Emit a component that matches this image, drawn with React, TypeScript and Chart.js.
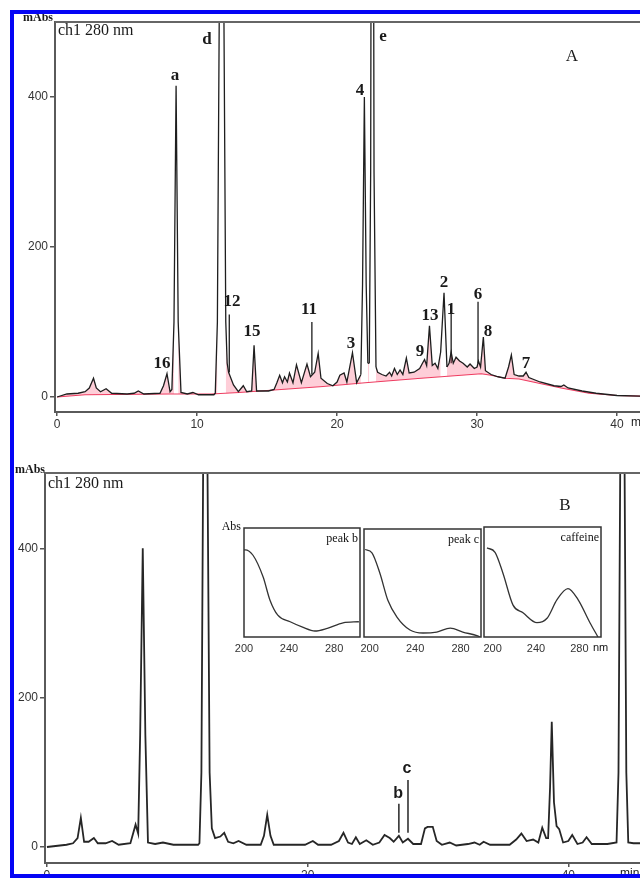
import React, { useEffect, useRef } from "react";
import { Chart, registerables } from "chart.js";

Chart.register(...registerables);

// ---------- Panel A : chromatogram (time in min, absorbance in mAbs) ----------
const TIME_A = [
  0, 0.7, 1.5, 2.0, 2.3, 2.6, 2.8, 3.1, 3.5, 3.9, 5.0, 5.5, 5.8, 6.2, 7.35, 7.6, 7.85, 8.07, 8.2, 8.35,
  8.5, 8.65, 8.85, 9.3, 9.7, 10.1, 11.2, 11.3, 11.45, 11.58, 11.75, 11.92, 12.05, 12.15, 12.25, 12.6,
  12.95, 13.3, 13.55, 13.9, 14.07, 14.25, 15.1, 15.5, 15.7, 15.9, 16.1, 16.25, 16.45, 16.6, 16.85, 17.1,
  17.45, 17.85, 18.1, 18.4, 18.65, 18.85, 19.3, 19.7, 20.0, 20.2, 20.5, 20.7, 21.1, 21.4, 21.7, 21.82,
  21.95, 22.08, 22.2, 22.3, 22.4, 22.52, 22.64, 22.78, 22.9, 23.2, 23.5, 23.75, 23.9, 24.1, 24.3, 24.5,
  24.7, 24.95, 25.15, 25.5, 25.9, 26.1, 26.25, 26.4, 26.6, 26.8, 27.0, 27.2, 27.4, 27.64, 27.85, 28.0,
  28.15, 28.3, 28.5, 28.75, 29.0, 29.3, 29.5, 29.8, 30.0, 30.1, 30.25, 30.45, 30.6, 31.0, 31.5, 32.0,
  32.25, 32.45, 32.65, 33.0, 33.3, 33.5, 33.7, 34.5, 35.5, 36.0, 36.2, 36.5, 37.5, 38.5, 40.0, 41.7,
];
const ABS_A = [
  0, 4, 5, 7, 12, 25, 12, 7, 11, 5, 4, 5, 8, 4, 5, 15, 31, 7, 10, 100,
  415, 100, 6, 4, 6, 3, 3, 5, 100, 500, 1500, 500, 100, 45, 33, 16,
  7, 15, 7, 8, 69, 8, 8, 10, 19, 29, 19, 27, 20, 32, 19, 43,
  19, 44, 27, 33, 58, 25, 18, 15, 20, 29, 32, 20, 59, 19, 30, 150,
  400, 150, 45, 45, 300, 1500, 300, 40, 33, 30, 28, 33, 28, 38, 30, 36,
  30, 52, 32, 33, 38, 45, 50, 42, 95, 42, 45, 38, 60, 139, 40, 45,
  60, 45, 53, 48, 45, 40, 44, 38, 40, 48, 40, 80, 35, 30, 27, 25,
  40, 56, 30, 28, 28, 33, 26, 20, 15, 14, 16, 12, 8, 5, 2, 1,
];
// integration baseline (red)
const BASE_TIME_A = [0, 2, 8, 11, 13, 16, 19, 22, 26, 30.3, 31, 32, 33, 34, 36, 38, 40, 41.7];
const BASE_ABS_A = [0, 3, 4, 4, 6, 10, 14, 19, 25, 31, 29, 25, 24, 20, 12, 5, 2, 1];
// thin peak marker lines
const MARK_TIME_A = [12.3, 18.2, 28.15, 30.07];
const MARK_LOW_A = [33, 30, 45, 45];
const MARK_HIGH_A = [110, 100, 122, 127];
// peak labels
const LABEL_TEXT_A = ["a", "d", "e", "4", "16", "12", "15", "11", "3", "9", "13", "2", "1", "6", "8", "7"];
const LABEL_TIME_A = [8.43, 10.71, 23.29, 21.64, 7.5, 12.5, 13.93, 18.0, 21.0, 25.93, 26.64, 27.64, 28.14, 30.07, 30.79, 33.5];
const LABEL_ABS_A = [429, 477, 480, 409, 45, 127, 87, 116, 71, 61, 109, 152, 117, 137, 87, 44];

// ---------- Panel B : chromatogram ----------
const TIME_B = [
  0, 1.5, 2.0, 2.35, 2.6, 2.85, 3.2, 3.6, 3.9, 4.5, 5.0, 5.5, 6.4, 6.8, 7.0, 7.15, 7.35, 7.55, 7.75, 8.3,
  8.9, 9.7, 11.6, 11.7, 11.85, 11.98, 12.15, 12.32, 12.48, 12.65, 12.9, 13.3, 13.6, 13.9, 14.3, 14.7,
  15.3, 16.4, 16.65, 16.9, 17.15, 17.4, 19.8, 20.4, 20.8, 21.8, 22.4, 22.75, 23.1, 23.4, 23.7, 24.0,
  24.5, 25.0, 25.5, 25.9, 26.3, 26.6, 27.0, 27.3, 27.7, 28.1, 28.7, 29.0, 29.2, 29.6, 29.9, 30.3,
  30.9, 31.4, 32.3, 32.8, 33.2, 33.5, 34.0, 35.5, 36.0, 36.4, 36.8, 37.3, 37.7, 38.0, 38.3, 38.45,
  38.6, 38.73, 38.9, 39.1, 39.3, 39.6, 40.0, 40.3, 40.7, 41.1, 41.4, 41.8, 43.0, 43.7, 43.85, 43.98,
  44.15, 44.32, 44.45, 44.6, 45.0, 45.6,
];
const ABS_B = [
  0, 3, 5, 12, 39, 7, 7, 12, 5, 5, 8, 3, 5, 30, 18, 150, 401, 150, 6, 4,
  6, 3, 3, 5, 100, 500, 1500, 500, 100, 25, 12, 14, 19, 7, 5, 8,
  3, 3, 15, 43, 15, 3, 3, 8, 3, 3, 8, 19, 6, 4, 13, 4,
  9, 3, 6, 16, 12, 7, 15, 6, 11, 4, 4, 25, 27, 27, 8, 3,
  6, 2, 4, 6, 3, 7, 3, 3, 10, 18, 8, 10, 6, 26, 12, 12,
  80, 168, 60, 28, 24, 6, 8, 16, 4, 6, 13, 4, 4, 6, 100, 500,
  1500, 500, 100, 6, 5, 5,
];
const MARK_TIME_B = [27.0, 27.7];
const MARK_LOW_B = [19, 19];
const MARK_HIGH_B = [58, 90];
const LABEL_TEXT_B = ["b", "c"];
const LABEL_TIME_B = [26.94, 27.62];
const LABEL_ABS_B = [72, 105];

// ---------- UV spectra (inset) ----------
const WL_PEAK_B = [200, 201, 208, 217, 223, 230, 241, 252, 263, 274, 288, 302];
const AB_PEAK_B = [0.8, 0.8, 0.75, 0.55, 0.34, 0.2, 0.14, 0.09, 0.055, 0.08, 0.13, 0.14];
const WL_PEAK_C = [196, 202, 209, 216, 224, 235.5, 247, 259, 271, 282, 295, 297];
const AB_PEAK_C = [0.81, 0.78, 0.59, 0.34, 0.185, 0.065, 0.037, 0.046, 0.083, 0.046, 0.01, 0.0];
const WL_CAFFEINE = [194.8, 202.2, 209.5, 218.8, 228, 240.9, 250.2, 259.4, 269.5, 278.8, 289.8, 297.2];
const AB_CAFFEINE = [0.81, 0.77, 0.58, 0.29, 0.22, 0.13, 0.17, 0.34, 0.44, 0.34, 0.13, 0.0];

// ---------- tick values ----------
const Y_TICKS = [0, 200, 400];
const X_TICKS_A = [0, 10, 20, 30, 40];
const X_TICKS_B = [0, 20, 40];
const NM_TICKS = [200, 240, 280];

const SERIF = '"Liberation Serif", "Times New Roman", serif';
const SANS = '"Liberation Sans", Arial, sans-serif';

function pts(xs: number[], ys: number[]) {
  return xs.map((x, i) => ({ x, y: ys[i] }));
}
function markerPts(ts: number[], lo: number[], hi: number[]) {
  const out: any[] = [];
  ts.forEach((t, i) => {
    out.push({ x: t, y: lo[i] }, { x: t, y: hi[i] }, { x: t, y: null });
  });
  return out;
}

function xAxis(min: number, max: number, ticks: number[], height: number) {
  return {
    type: "linear",
    min,
    max,
    grid: { display: true, drawOnChartArea: false, drawTicks: true, tickLength: 4, color: "#555", lineWidth: 1.5 },
    border: { display: true, color: "#5a5a5a", width: 2 },
    ticks: {
      font: { family: SANS, size: 12 },
      color: "#333",
      padding: 1,
      maxRotation: 0,
      autoSkip: false,
      callback: (v: any) => String(v),
    },
    afterBuildTicks: (s: any) => {
      s.ticks = ticks.map((value) => ({ value }));
    },
    afterFit: (s: any) => {
      s.height = height;
    },
  };
}
function yAxis(min: number, max: number) {
  return {
    type: "linear",
    min,
    max,
    grid: { display: true, drawOnChartArea: false, drawTicks: true, tickLength: 5, color: "#555", lineWidth: 1.5 },
    border: { display: true, color: "#5a5a5a", width: 2 },
    ticks: {
      font: { family: SANS, size: 12 },
      color: "#333",
      padding: 2,
      callback: (v: any) => String(v),
    },
    afterBuildTicks: (s: any) => {
      s.ticks = Y_TICKS.map((value) => ({ value }));
    },
    afterFit: (s: any) => {
      s.width = 40;
    },
  };
}

type TextItem = { text: string; x: number; y: number; font: string; align: CanvasTextAlign };

function mainOverlay(id: string, texts: string[], times: number[], values: number[], labelFont: string, extra: TextItem[]) {
  return {
    id,
    afterDraw(chart: any) {
      const { ctx, chartArea, scales } = chart;
      ctx.save();
      ctx.strokeStyle = "#666";
      ctx.lineWidth = 2;
      ctx.beginPath();
      ctx.moveTo(chartArea.left, chartArea.top);
      ctx.lineTo(chartArea.right, chartArea.top);
      ctx.stroke();
      ctx.fillStyle = "#1a1a1a";
      ctx.textBaseline = "middle";
      ctx.textAlign = "center";
      ctx.font = labelFont;
      texts.forEach((t, i) => {
        ctx.fillText(t, scales.x.getPixelForValue(times[i]), scales.y.getPixelForValue(values[i]));
      });
      extra.forEach((e) => {
        ctx.font = e.font;
        ctx.textAlign = e.align;
        ctx.fillText(e.text, e.x, e.y);
      });
      ctx.restore();
    },
  };
}

const PINK = "rgba(250,60,100,0.25)";
const CLEAR = "rgba(0,0,0,0)";

function configA(): any {
  return {
    type: "line",
    data: {
      datasets: [
        {
          data: pts(TIME_A, ABS_A),
          borderColor: "#1e1e1e",
          borderWidth: 1.3,
          pointRadius: 0,
          tension: 0,
          fill: { target: 1, above: PINK, below: CLEAR },
          segment: {
            backgroundColor: (c: any) => (c.p0.parsed.y > 100 || c.p1.parsed.y > 100 ? CLEAR : PINK),
          },
        },
        {
          data: pts(BASE_TIME_A, BASE_ABS_A),
          borderColor: "rgba(235,40,80,0.9)",
          borderWidth: 1.2,
          pointRadius: 0,
          tension: 0,
          fill: false,
        },
        {
          data: markerPts(MARK_TIME_A, MARK_LOW_A, MARK_HIGH_A),
          borderColor: "#1e1e1e",
          borderWidth: 1.3,
          pointRadius: 0,
          fill: false,
          spanGaps: false,
        },
      ],
    },
    options: {
      responsive: false,
      animation: false,
      devicePixelRatio: 1,
      events: [],
      layout: { padding: { left: 15, top: 22, right: 0, bottom: 8 } },
      plugins: { legend: { display: false }, tooltip: { enabled: false } },
      scales: {
        x: xAxis(-0.15, 41.64, X_TICKS_A, 20),
        y: yAxis(-20, 500),
      },
    },
    plugins: [
      mainOverlay("overlayA", LABEL_TEXT_A, LABEL_TIME_A, LABEL_ABS_A, `bold 17px ${SERIF}`, [
        { text: "mAbs", x: 53, y: 18, font: `bold 12px ${SERIF}`, align: "right" },
        { text: "ch1 280 nm", x: 58, y: 31, font: `16px ${SERIF}`, align: "left" },
        { text: "A", x: 572, y: 57, font: `17px ${SERIF}`, align: "center" },
        { text: "min", x: 631, y: 423, font: `12px ${SANS}`, align: "left" },
      ]),
    ],
  };
}

function configB(): any {
  return {
    type: "line",
    data: {
      datasets: [
        {
          data: pts(TIME_B, ABS_B),
          borderColor: "#262626",
          borderWidth: 1.8,
          pointRadius: 0,
          tension: 0,
          fill: false,
        },
        {
          data: markerPts(MARK_TIME_B, MARK_LOW_B, MARK_HIGH_B),
          borderColor: "#262626",
          borderWidth: 1.5,
          pointRadius: 0,
          fill: false,
          spanGaps: false,
        },
      ],
    },
    options: {
      responsive: false,
      animation: false,
      devicePixelRatio: 1,
      events: [],
      layout: { padding: { left: 5, top: 33, right: 0, bottom: 0 } },
      plugins: { legend: { display: false }, tooltip: { enabled: false } },
      scales: {
        x: xAxis(-0.15, 45.5, X_TICKS_B, 15),
        y: yAxis(-21.5, 502),
      },
    },
    plugins: [
      mainOverlay("overlayB", LABEL_TEXT_B, LABEL_TIME_B, LABEL_ABS_B, `bold 16px ${SANS}`, [
        { text: "mAbs", x: 45, y: 30, font: `bold 12px ${SERIF}`, align: "right" },
        { text: "ch1 280 nm", x: 48, y: 44, font: `16px ${SERIF}`, align: "left" },
        { text: "B", x: 565, y: 66, font: `17px ${SERIF}`, align: "center" },
        { text: "min", x: 620, y: 434, font: `12px ${SANS}`, align: "left" },
      ]),
    ],
  };
}

function configInset(
  wl: number[],
  ab: number[],
  xMin: number,
  xMax: number,
  title: string,
  padding: { left: number; right: number; top: number; bottom: number },
  showAbs: boolean,
  showNm: boolean
): any {
  return {
    type: "line",
    data: {
      datasets: [
        {
          data: pts(wl, ab),
          borderColor: "#333",
          borderWidth: 1.3,
          pointRadius: 0,
          cubicInterpolationMode: "monotone",
          fill: false,
        },
      ],
    },
    options: {
      responsive: false,
      animation: false,
      devicePixelRatio: 1,
      events: [],
      layout: { padding },
      plugins: { legend: { display: false }, tooltip: { enabled: false } },
      scales: {
        x: {
          type: "linear",
          min: xMin,
          max: xMax,
          grid: { display: false, drawTicks: false, tickLength: 0 },
          border: { display: false },
          ticks: {
            font: { family: SANS, size: 11 },
            color: "#333",
            padding: 5,
            maxRotation: 0,
            autoSkip: false,
            callback: (v: any) => String(v),
          },
          afterBuildTicks: (s: any) => {
            s.ticks = NM_TICKS.map((value) => ({ value }));
          },
          afterFit: (s: any) => {
            s.height = 18;
          },
        },
        y: { type: "linear", display: false, min: 0, max: 1 },
      },
    },
    plugins: [
      {
        id: "insetFrame",
        afterDraw(chart: any) {
          const { ctx, chartArea } = chart;
          ctx.save();
          ctx.strokeStyle = "#333";
          ctx.lineWidth = 1.5;
          ctx.strokeRect(chartArea.left, chartArea.top, chartArea.right - chartArea.left, chartArea.bottom - chartArea.top);
          ctx.fillStyle = "#111";
          ctx.textBaseline = "middle";
          ctx.font = `12px ${SERIF}`;
          ctx.textAlign = "right";
          ctx.fillText(title, chartArea.right - 2, chartArea.top + 11);
          if (showAbs) {
            ctx.fillText("Abs", chartArea.left - 3, chartArea.top - 1);
          }
          if (showNm) {
            ctx.font = `11px ${SANS}`;
            ctx.textAlign = "left";
            ctx.fillText("nm", chartArea.right - 8, chartArea.bottom + 11);
          }
          ctx.restore();
        },
      },
    ],
  };
}

export default function App() {
  const aRef = useRef<HTMLCanvasElement>(null);
  const bRef = useRef<HTMLCanvasElement>(null);
  const s1Ref = useRef<HTMLCanvasElement>(null);
  const s2Ref = useRef<HTMLCanvasElement>(null);
  const s3Ref = useRef<HTMLCanvasElement>(null);

  useEffect(() => {
    const charts: Chart[] = [];
    if (aRef.current) charts.push(new Chart(aRef.current, configA()));
    if (bRef.current) charts.push(new Chart(bRef.current, configB()));
    if (s1Ref.current)
      charts.push(
        new Chart(
          s1Ref.current,
          configInset(WL_PEAK_B, AB_PEAK_B, 200, 303, "peak b", { left: 30, right: 14, top: 14, bottom: 19 }, true, false)
        )
      );
    if (s2Ref.current)
      charts.push(
        new Chart(
          s2Ref.current,
          configInset(WL_PEAK_C, AB_PEAK_C, 195, 298, "peak c", { left: 14, right: 14, top: 15, bottom: 19 }, false, false)
        )
      );
    if (s3Ref.current)
      charts.push(
        new Chart(
          s3Ref.current,
          configInset(WL_CAFFEINE, AB_CAFFEINE, 192, 300, "caffeine", { left: 14, right: 20, top: 13, bottom: 19 }, false, true)
        )
      );
    return () => charts.forEach((c) => c.destroy());
  }, []);

  const abs: React.CSSProperties = { position: "absolute", display: "block" };
  return (
    <div
      style={{
        position: "absolute",
        left: 0,
        top: 0,
        width: 640,
        height: 878,
        overflow: "hidden",
        background: "#fff",
      }}
    >
      <canvas ref={aRef} width={640} height={440} style={{ ...abs, left: 0, top: 0, width: 640, height: 440 }} />
      <canvas ref={bRef} width={640} height={438} style={{ ...abs, left: 0, top: 440, width: 640, height: 438 }} />
      <canvas ref={s1Ref} width={160} height={160} style={{ ...abs, left: 214, top: 514, width: 160, height: 160 }} />
      <canvas ref={s2Ref} width={145} height={160} style={{ ...abs, left: 350, top: 514, width: 145, height: 160 }} />
      <canvas ref={s3Ref} width={151} height={160} style={{ ...abs, left: 470, top: 514, width: 151, height: 160 }} />
      <div
        style={{
          position: "absolute",
          left: 10,
          top: 10,
          width: 700,
          height: 860,
          border: "4px solid #0505f5",
          pointerEvents: "none",
        }}
      />
    </div>
  );
}
